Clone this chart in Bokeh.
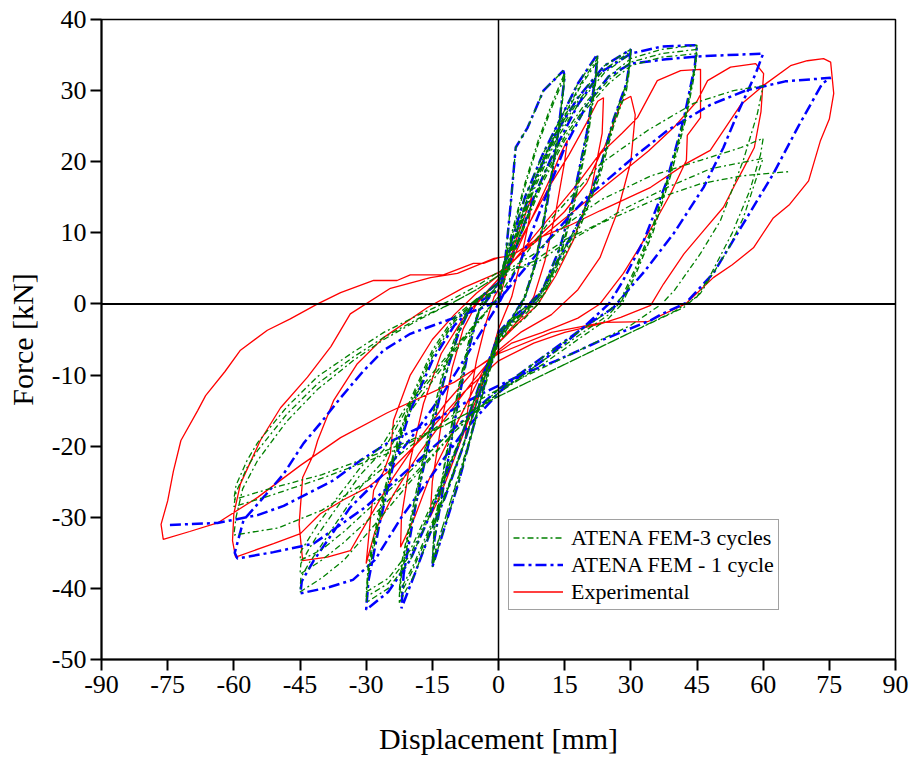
from bokeh.plotting import figure
from bokeh.models import Span, Legend, LegendItem, FixedTicker, Range1d
from bokeh.embed import file_html
from bokeh.resources import INLINE

# ---------------- axis ticks ----------------
x_ticks = [-90, -75, -60, -45, -30, -15, 0, 15, 30, 45, 60, 75, 90]
y_ticks = [-50, -40, -30, -20, -10, 0, 10, 20, 30, 40]

# ---------------- Experimental (red) loops ----------------
exp_x_7 = [0, 2, 4, 6, 7.5, 7, 5, 3, 1, 0, -2, -4, -6, -7.5, -7, -5, -3, -1, 0]
exp_y_7 = [0, 5, 9, 12.5, 15, 12, 6, 1, -2, -3.5, -8, -12, -16, -19, -15, -8, -3, 1, 2]
exp_x_15 = [0, 3, 6, 9, 12, 14, 15.6, 15, 13, 10.5, 8, 5, 2, 0, -3, -6, -9, -12, -14, -15.5, -15, -13, -10.5, -8, -5, -2, 0]
exp_y_15 = [2, 6, 10, 14, 18, 21, 23, 20, 13, 6, 1, -2, -4, -5.5, -10, -15, -20, -25, -28, -30, -25, -17, -9, -3.5, 0, 2, 3]
exp_x_22 = [0, 4, 8, 12, 16, 20, 22.5, 23.8, 23.5, 21, 17, 13, 9, 4, 0, -4, -8, -12, -16, -19, -22.2, -22, -20, -17, -13, -8, -3, 0]
exp_y_22 = [3, 8, 12.5, 17, 21, 25.5, 28.5, 29, 24, 16, 9, 4, 0, -3, -5.5, -10, -15, -20, -25, -30, -34.2, -30, -22, -14, -7, -2, 1.5, 3.5]
exp_x_30 = [0, 6, 12, 18, 24, 28, 30, 31, 30, 27, 23, 18, 12, 5, 0, -6, -12, -18, -24, -28, -30, -29, -28.3, -26, -24.5, -23.8, -20, -15, -10, -5, 0]
exp_y_30 = [3.5, 8, 12.5, 17, 22, 28.5, 29.2, 26.6, 20, 13, 6.5, 2, -1.5, -4, -6.5, -11, -16, -21, -27, -32, -36.5, -30, -26.2, -23.5, -21, -16.4, -10, -5, -1.5, 1.5, 4]
exp_x_45 = [0, 5, 10, 15, 20, 23.1, 28, 31.5, 36, 41.3, 45.8, 45.8, 42.8, 42.6, 39, 35.6, 32, 28.3, 23, 18, 10, 3, -5, -12, -18, -24, -29.7, -33.6, -38.8, -44.4, -45.2, -44.4, -41.9, -41, -37.4, -32, -26, -16.1, -7.9, 0]
exp_y_45 = [4, 7, 10, 13, 17, 21.1, 24, 26.2, 31.4, 32.8, 33, 26.2, 23.7, 20.2, 15.5, 11.7, 8, 4.3, 0, -2, -4, -5.5, -9, -14, -19, -24.5, -30.5, -34.7, -35.6, -36.1, -31, -24.4, -21.1, -19.2, -13.6, -8.4, -4.7, -0.5, 2.3, 4.4]
exp_x_60 = [0, 6, 12, 20, 28, 34, 40, 45, 47.4, 52.6, 58.3, 60.1, 59.5, 58, 55.5, 53.7, 51, 46.5, 42, 37.4, 34.5, 27.7, 23.1, 15, 8, 0, -8, -16, -23.8, -29.7, -35, -40.4, -44.9, -51, -59.6, -60.3, -60, -58.5, -54, -49.4, -43.3, -38, -33.6, -24.5, -15.4, -9.3, -1]
exp_y_60 = [4.4, 7.5, 10.5, 14.5, 18.5, 21.5, 25, 28.5, 31.4, 33.3, 33.8, 32.4, 27, 22, 19, 16.9, 13.6, 10.3, 7, 2.8, -0.2, -1.9, -2.8, -4, -5.5, -8, -12.5, -18, -23, -25.8, -27.5, -29.5, -32.3, -33.7, -35.6, -33.3, -29.5, -25.3, -19.2, -14.6, -10.3, -6, -1.4, 2.2, 3.7, 4.3, 6.4]
exp_x_75 = [0, 3, 9.5, 16, 23, 34.5, 42.4, 48, 54.9, 60, 66.2, 70, 73.7, 75.3, 76, 75, 73, 70.3, 66, 62.3, 57.8, 53, 48.7, 42.4, 33.8, 23.8, 12, 0, -10, -25.2, -35.8, -44.9, -54.6, -63.7, -70, -76, -76.5, -75, -73.7, -72, -68.2, -66.4, -62, -58.5, -52.4, -47.2, -41, -35.8, -28.3, -23, -20, -12.5, -5.7, -3.4, 0]
exp_y_75 = [6.5, 6.8, 9.4, 11, 13.1, 16.4, 19.7, 21.6, 28, 30.7, 33.5, 34.2, 34.5, 34, 29.6, 26, 23, 17.3, 14, 12.1, 7.9, 5.5, 3.7, 0, -2.5, -2.6, -4, -7, -11, -15.3, -18.8, -22.7, -27.2, -30.8, -32, -33.1, -31, -27.7, -23.5, -19.2, -15, -12.9, -9.5, -6.5, -3.7, -2.1, 0, 1.6, 3.3, 3.3, 4.1, 4.1, 5.7, 5.7, 6.5]

# ---------------- ATENA FEM - 1 cycle (blue) ----------------
fem1_x_15 = [0, 1.5, 2.7, 3.9, 6.6, 10.2, 14.7, 15, 13.5, 11, 8.5, 6, 3, 0, -3, -6, -9, -12, -15, -14.5, -12, -9.5, -7, -4.5, -2, 0]
fem1_y_15 = [0, 6, 13.6, 22, 24.8, 30, 32.8, 32, 24, 14, 6, 1, -2, -5, -11, -18, -25, -31, -37, -33, -24, -15, -7, -1, 1, 3]
fem1_x_22 = [3, 6, 10, 14, 18, 22.4, 22, 20, 17, 14, 10, 7, 3, 0, -4, -8, -12, -16, -19, -22, -21.5, -19, -16, -12.5, -9, -6, -2, 0]
fem1_y_22 = [9, 15, 21, 26, 31, 35.1, 32, 24, 15, 8, 2, 0, -2, -4, -12, -20, -27, -33, -38, -42.8, -38, -29, -20, -11, -4, 0, 2, 3]
fem1_x_30 = [4, 8, 13, 18, 24, 30, 29.5, 29, 26.1, 23, 18.6, 13.4, 9, 6, 2, 0, -4, -9.3, -15.4, -20, -25, -30, -29.5, -27, -24, -20, -15, -10, -5, 0]
fem1_y_30 = [10, 17, 24, 29, 33.5, 35.8, 33, 31, 26, 19, 12, 6, 1, -1, -3, -4.5, -10.8, -20.2, -29.5, -36, -40.5, -43, -39, -31, -23, -15, -8, -3, 0, 2]
fem1_x_45 = [4, 8, 13, 18, 23, 30, 37, 45, 44.5, 42, 38, 33, 28, 25, 18, 10, 3, 0, -8, -15, -22, -28, -33, -38.8, -44.9, -44.6, -41.9, -38.8, -33.6, -26.8, -20, -13, -7, -2, 0]
fem1_y_45 = [8, 15, 22, 28, 32.5, 35.2, 36.2, 36.4, 33.5, 26, 17, 9, 3, 0, -4, -8, -11, -12.5, -18, -24, -30, -36, -38.8, -39.9, -40.7, -39, -36.1, -33.3, -28.6, -24.4, -19, -13, -7, -2, 0]
fem1_x_60 = [5, 10, 15, 20, 25, 30, 38, 45, 52, 60, 58.3, 54.2, 51, 46.5, 39.7, 33, 29.9, 26.1, 20, 10, 0, -10, -20, -30, -41.9, -51, -59.2, -59.8, -57.8, -53, -48.7, -44.2, -40.4, -35.8, -30.6, -26, -20, -11.6, -3.4, 0]
fem1_y_60 = [6, 14, 22, 28, 32, 33.8, 34.4, 34.8, 35, 35.2, 32.4, 26.8, 22, 16.4, 9.9, 4.5, 2.3, -0.5, -3, -7.5, -12, -17.5, -23, -28.5, -33.7, -34.9, -35.8, -35, -30.4, -27, -23.9, -19.6, -16.8, -13.2, -9.4, -6.5, -4.2, -2.3, -0.5, 0.5]
fem1_x_75 = [6, 12, 20, 30.6, 38.3, 48, 56, 65, 75.3, 73.4, 68, 62.3, 55.5, 48.7, 42.4, 37.1, 34.5, 23, 13, 5, -5, -15, -25, -31.3, -37.4, -48.7, -54.6, -63.7, -75.3]
fem1_y_75 = [5, 9.5, 15, 20.6, 24.4, 28, 30, 31.3, 31.8, 31, 25, 18.3, 11.3, 4.3, 0.1, -1.4, -2.3, -5.2, -8, -10, -13, -16.5, -19.5, -22, -24.8, -28.4, -29.7, -30.8, -31.1]

# ---------------- ATENA FEM - 3 cycles (green) ----------------
fem3_x_15a = [0, 1.5, 2.7, 3.9, 6.6, 10.2, 14.7, 15, 13.5, 11, 8.5, 6, 3, 0, -3, -6, -9, -12, -15, -14.5, -12, -9.5, -7, -4.5, -2, 0]
fem3_y_15a = [0, 6, 13.6, 22, 24.8, 30, 32.8, 32, 24, 14, 6, 1, -2, -5, -11, -18, -25, -31, -37, -33, -24, -15, -7, -1, 1, 3]
fem3_x_15b = [3, 6, 9, 12, 15, 14.7, 13, 10.5, 8, 5.5, 2.5, 0, -3.5, -7, -10.5, -13, -15, -14.6, -12, -9, -6.5, -4, -1, 0]
fem3_y_15b = [10, 17, 23, 28, 32.5, 30, 22, 13, 5, 0.5, -2.5, -5, -12, -20, -27, -32, -36.5, -32, -22, -12, -5, -0.5, 2, 3]
fem3_x_15c = [3, 6, 9, 12, 15, 14.7, 13, 10.5, 8, 5.5, 2.5, 0, -3.5, -7, -10.5, -13, -15, -14.6, -12, -9, -6.5, -4, -1, 0]
fem3_y_15c = [9.5, 16.5, 22.5, 27.5, 32, 29.5, 21.5, 12.5, 4.5, 0, -3, -5.5, -12.5, -20.5, -27, -32, -36, -31.5, -21.5, -11.5, -4.5, 0, 2, 3]
fem3_x_22a = [3, 6, 10, 14, 18, 22.5, 22, 20, 17, 14, 10, 7, 3, 0, -4, -8, -12, -16, -19, -22.5, -22, -19, -16, -12.5, -9, -6, -2, 0]
fem3_y_22a = [9, 15, 21, 26, 31, 35, 32, 24, 15, 8, 2, 0, -2, -4, -12, -20, -27, -33, -38, -42, -38, -29, -20, -11, -4, 0, 2, 3]
fem3_x_22b = [3.5, 6.5, 10.5, 14.5, 18.5, 22.5, 22, 20.2, 17.2, 14.2, 10.5, 7.5, 3.5, 0, -4, -8, -12, -16, -19.5, -22.5, -22, -19.2, -16.2, -12.8, -9.2, -6, -2, 0]
fem3_y_22b = [9, 15, 21, 26, 30.8, 34.6, 31.5, 23.5, 14.5, 7.5, 2, 0, -2.2, -4.2, -12, -20, -26.8, -32.5, -37.5, -41.2, -37.2, -28.5, -19.5, -10.5, -3.8, 0, 2, 3]
fem3_x_22c = [3.5, 6.5, 10.5, 14.5, 18.5, 22.5, 22, 20.2, 17.2, 14.2, 10.5, 7.5, 3.5, 0, -4, -8, -12, -16, -19.5, -22.5, -22, -19.2, -16.2, -12.8, -9.2, -6, -2, 0]
fem3_y_22c = [8.8, 14.8, 20.8, 25.8, 30.5, 34.2, 31, 23, 14, 7, 1.5, -0.3, -2.5, -4.5, -12, -19.8, -26.5, -32, -37, -40.5, -36.5, -28, -19, -10, -3.5, 0.2, 2, 3]
fem3_x_30 = [4, 8, 13, 18, 24, 30, 29.5, 29, 26.1, 23, 18.6, 13.4, 9, 6, 2, 0, -4, -9.3, -15.4, -20, -25, -30, -29.5, -27, -24, -20, -15, -10, -5, 0]
fem3_y_30a = [10, 17, 24, 29, 33.5, 35.8, 33, 31, 26, 19, 12, 6, 1, -1, -3, -4.5, -10.8, -20.2, -29.5, -36, -40, -42, -38, -30.5, -22.5, -14.5, -7.5, -2.5, 0.3, 2]
fem3_y_30b = [9.5, 16.5, 23.5, 28.5, 33, 35.5, 32.5, 30.5, 25.5, 18.5, 11.5, 5.5, 0.5, -1.5, -3.5, -5, -11, -20, -29, -35.3, -39.3, -41.2, -37.2, -29.8, -22, -14, -7, -2.2, 0.5, 2]
fem3_y_30c = [9, 16, 23, 28, 32.5, 35.2, 32, 30, 25, 18, 11, 5, 0, -2, -4, -5.5, -11.2, -19.8, -28.5, -34.6, -38.6, -40.5, -36.5, -29, -21.5, -13.5, -6.5, -1.8, 0.7, 2]
fem3_x_45 = [5, 10, 15, 20, 25, 30, 37, 45, 44.5, 42.5, 39, 35, 31, 28, 25, 18, 10, 0, -10, -20, -28, -35, -40, -45, -44.8, -43, -41, -36.5, -31.3, -26, -21, -14, -7, 0]
fem3_y_45a = [10, 18, 24, 28.5, 32, 34.5, 35.8, 36.4, 33.5, 27, 19, 11, 5, 1, -1, -4, -7.5, -12, -18, -25, -31, -36, -38.5, -40.5, -38.5, -36.5, -34.7, -30.5, -25.8, -22, -16, -10, -4.5, 1]
fem3_y_45b = [10, 17.5, 23.5, 28, 31.5, 34, 35.2, 35.8, 33, 26.5, 18.5, 10.5, 4.5, 0.5, -1.5, -4.5, -8, -12.5, -18, -24.5, -29.5, -33.5, -36, -38, -36.5, -34.5, -32.5, -28.5, -24, -20.5, -15, -9.5, -4.2, 1]
fem3_y_45c = [9.5, 17, 23, 27.5, 31, 33.5, 34.7, 35.2, 32.5, 26, 18, 10, 4, 0, -2, -5, -8.5, -12.5, -17.5, -23.5, -28, -32, -34.5, -36.1, -34.8, -33, -31, -27.2, -23, -19.5, -14.5, -9, -4, 1]
fem3_x_60a = [5, 12, 23.1, 33.8, 44.2, 53.3, 60, 58.7, 55.5, 50.3, 45.8, 40, 37, 30, 20, 10, 0, -10, -20, -30, -40, -50, -60, -59.5, -58, -54.6, -48, -41, -33, -26, -18, -10.9, -5, 0]
fem3_y_60a = [6, 12, 19.7, 24.4, 28.2, 30, 30.7, 26.8, 20.2, 11.7, 7.1, 2, 0, -3, -6, -9, -12, -15.5, -20, -25, -29, -31.5, -32.5, -30, -26, -22, -16.5, -12, -8, -5, -2.2, 0, 2, 4]
fem3_x_60b = [8, 15, 23.1, 34.5, 45.8, 55, 60, 59.4, 57, 53, 48, 45, 40, 30, 20, 10, 0, -12, -25, -40, -52, -60, -59.5, -57, -54.6, -48, -41, -33, -26, -18, -10.9, -5, 0]
fem3_y_60b = [7, 11, 14.6, 18, 20.2, 22, 23.3, 21, 16, 10, 4, 1, -1, -4, -7, -10, -13, -17, -21, -24.5, -27, -28.5, -26.5, -23, -20.6, -15.5, -11.2, -7.5, -4.7, -2, 0, 2, 4]
fem3_x_60c = [8, 15, 23.1, 29.2, 38.3, 48, 59.4, 60, 59, 55.5, 51.9, 45.8, 42, 30, 20, 10, 0, -12, -25, -40, -52, -60, -59.5, -57, -54.6, -48, -41, -33, -26, -18, -10.9, -5, 0]
fem3_y_60c = [6, 9, 11.4, 13.6, 16.4, 19, 20.4, 20.5, 18.7, 12.1, 7.5, 1.5, -0.5, -4, -7, -10, -13, -17, -20.5, -24, -26, -27.5, -25.5, -22, -19.5, -14.5, -10.2, -6.8, -4, -1.5, 0.5, 2.5, 4.5]
fem3_x_end = [8, 15, 23, 36.7, 45.8, 55, 65.8]
fem3_y_end = [5.5, 8.5, 11.3, 15, 16.9, 18, 18.6]

exp_x = exp_x_7 + exp_x_15 + exp_x_22 + exp_x_30 + exp_x_45 + exp_x_60 + exp_x_75
exp_y = exp_y_7 + exp_y_15 + exp_y_22 + exp_y_30 + exp_y_45 + exp_y_60 + exp_y_75
fem1_x = fem1_x_15 + fem1_x_22 + fem1_x_30 + fem1_x_45 + fem1_x_60 + fem1_x_75
fem1_y = fem1_y_15 + fem1_y_22 + fem1_y_30 + fem1_y_45 + fem1_y_60 + fem1_y_75
fem3_x = (fem3_x_15a + fem3_x_15b + fem3_x_15c + fem3_x_22a + fem3_x_22b + fem3_x_22c
          + fem3_x_30 * 3 + fem3_x_45 * 3 + fem3_x_60a + fem3_x_60b + fem3_x_60c + fem3_x_end)
fem3_y = (fem3_y_15a + fem3_y_15b + fem3_y_15c + fem3_y_22a + fem3_y_22b + fem3_y_22c
          + fem3_y_30a + fem3_y_30b + fem3_y_30c + fem3_y_45a + fem3_y_45b + fem3_y_45c
          + fem3_y_60a + fem3_y_60b + fem3_y_60c + fem3_y_end)

FONT = "Liberation Serif"

p = figure(width=909, height=758, output_backend="svg", toolbar_location=None,
           x_range=Range1d(-90, 90), y_range=Range1d(-50, 40),
           min_border_left=101, min_border_right=14, min_border_top=19, min_border_bottom=99)
p.background_fill_color = "white"
p.border_fill_color = "white"
p.outline_line_color = "black"
p.outline_line_width = 1.5
p.xgrid.visible = False
p.ygrid.visible = False

for ax in (p.xaxis, p.yaxis):
    ax.axis_line_width = 2
    ax.major_tick_line_width = 2
    ax.major_tick_out = 11
    ax.major_tick_in = 0
    ax.minor_tick_out = 0
    ax.minor_tick_in = 0
    ax.major_label_text_font = FONT
    ax.major_label_text_font_size = "26px"
    ax.major_label_text_color = "black"
    ax.axis_label_text_font = FONT
    ax.axis_label_text_font_size = "30px"
    ax.axis_label_text_font_style = "normal"
    ax.axis_label_text_color = "black"

p.xaxis.ticker = FixedTicker(ticks=x_ticks)
p.yaxis.ticker = FixedTicker(ticks=y_ticks)
p.xaxis.major_label_overrides = {t: str(t) for t in x_ticks}
p.yaxis.major_label_overrides = {t: str(t) for t in y_ticks}
p.xaxis.axis_label = "Displacement [mm]"
p.yaxis.axis_label = "Force [kN]"
p.xaxis.major_label_standoff = 5
p.yaxis.major_label_standoff = 4
p.xaxis.axis_label_standoff = 26
p.yaxis.axis_label_standoff = 10

p.add_layout(Span(location=0, dimension="height", line_color="black", line_width=1.5))
p.add_layout(Span(location=0, dimension="width", line_color="black", line_width=2))

r_exp = p.line(exp_x, exp_y, line_color="#ff0000", line_width=1.3)
r_fem1 = p.line(fem1_x, fem1_y, line_color="#0000ff", line_width=2.5, line_dash="11 4 3 4")
r_fem3 = p.line(fem3_x, fem3_y, line_color="#008000", line_width=1.3, line_dash="6 3 2 3")

legend = Legend(items=[
    LegendItem(label="ATENA FEM-3 cycles", renderers=[r_fem3]),
    LegendItem(label="ATENA FEM - 1 cycle", renderers=[r_fem1]),
    LegendItem(label="Experimental", renderers=[r_exp]),
], location=(407, 49))
legend.label_text_font = FONT
legend.label_text_font_size = "22px"
legend.label_text_color = "black"
legend.glyph_width = 50
legend.glyph_height = 27
legend.label_height = 27
legend.label_standoff = 8
legend.spacing = 0
legend.padding = 4
legend.margin = 0
legend.border_line_color = "#444444"
legend.border_line_width = 1
legend.background_fill_alpha = 1
p.add_layout(legend)

open("out.html", "w").write(file_html(p, INLINE))
